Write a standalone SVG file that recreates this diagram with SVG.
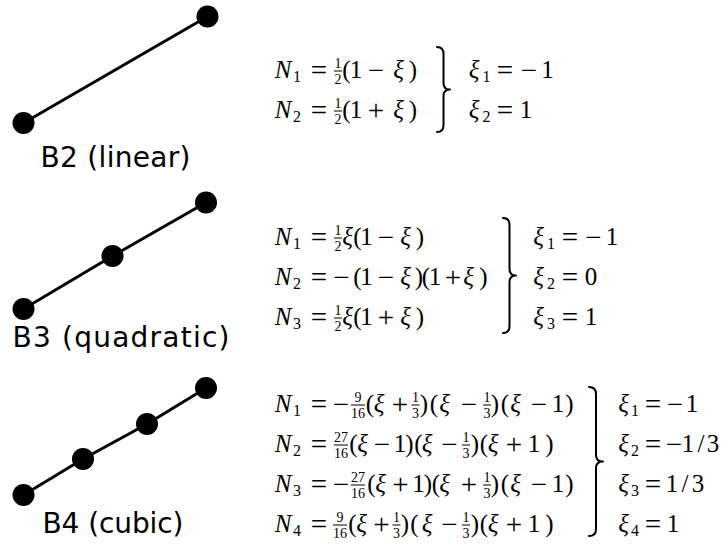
<svg xmlns="http://www.w3.org/2000/svg" width="726" height="547" viewBox="0 0 726 547">
<style>
.m{font-family:"Liberation Serif","Times New Roman",serif;font-size:25px;text-anchor:middle;fill:#000}
.i{font-style:italic}
.s{font-size:16px}
.o{font-size:29px;baseline-shift:-1.5px}
.fr{font-family:"Liberation Serif","Times New Roman",serif;font-size:14px;text-anchor:middle;fill:#000}
.bar{stroke:#000;stroke-width:1}
.brace{fill:none;stroke:#000;stroke-width:2;stroke-linecap:round;stroke-linejoin:round}
.lbl{font-family:"DejaVu Sans",Verdana,sans-serif;font-size:28px;fill:#000}
.edge{stroke:#000;stroke-width:3;fill:none}
.node{fill:#000}
</style>
<rect width="726" height="547" fill="#fff"/>

<g id="connectors">
<line class="edge" x1="23.5" y1="123" x2="207.5" y2="16.5"/>
<line class="edge" x1="23.5" y1="309" x2="112.5" y2="256"/>
<line class="edge" x1="112.5" y1="256" x2="206" y2="202.5"/>
<line class="edge" x1="23.5" y1="495" x2="83" y2="459"/>
<line class="edge" x1="83" y1="459" x2="147" y2="424"/>
<line class="edge" x1="147" y1="424" x2="206" y2="388"/>
</g>

<g id="b2-n1"><circle class="node" cx="23.5" cy="123" r="11"/></g>
<g id="b2-n2"><circle class="node" cx="207.5" cy="16.5" r="11"/></g>
<g id="b3-n1"><circle class="node" cx="23.5" cy="309" r="11"/></g>
<g id="b3-n2"><circle class="node" cx="112.5" cy="256" r="11"/></g>
<g id="b3-n3"><circle class="node" cx="206" cy="202.5" r="11"/></g>
<g id="b4-n1"><circle class="node" cx="23.5" cy="495" r="11"/></g>
<g id="b4-n2"><circle class="node" cx="83" cy="459" r="11"/></g>
<g id="b4-n3"><circle class="node" cx="147" cy="424" r="11"/></g>
<g id="b4-n4"><circle class="node" cx="206" cy="388" r="11"/></g>

<g id="labels">
<text class="lbl" x="40.5" y="167" textLength="150" lengthAdjust="spacing">B2 (linear)</text>
<text class="lbl" x="12.5" y="347" textLength="217" lengthAdjust="spacing">B3 (quadratic)</text>
<text class="lbl" x="42.5" y="533" textLength="141" lengthAdjust="spacing">B4 (cubic)</text>
</g>

<g id="eq-b2">
<text class="m"><tspan class="i" x="283" y="78">N</tspan><tspan class="s" x="297" y="82">1</tspan><tspan class="o" x="319" y="78">=</tspan><tspan x="346.5">(</tspan><tspan x="356">1</tspan><tspan class="o" x="376">−</tspan><tspan class="i" x="398.5">ξ</tspan><tspan x="413">)</tspan></text>
<text class="fr" x="338" y="67.5">1</text><line class="bar" x1="334" x2="342" y1="71" y2="71"/><text class="fr" x="338" y="84">2</text>
<text class="m"><tspan class="i" x="283" y="118">N</tspan><tspan class="s" x="297" y="122">2</tspan><tspan class="o" x="319" y="118">=</tspan><tspan x="346.5">(</tspan><tspan x="356">1</tspan><tspan class="o" x="376">+</tspan><tspan class="i" x="398.5">ξ</tspan><tspan x="413">)</tspan></text>
<text class="fr" x="338" y="107.5">1</text><line class="bar" x1="334" x2="342" y1="111" y2="111"/><text class="fr" x="338" y="124">2</text>
<path class="brace" d="M437,47 Q443.5,47 443.5,54 L443.5,83 Q443.5,89.5 450,89.5 Q443.5,89.5 443.5,96 L443.5,125 Q443.5,132 437,132"/>
<text class="m"><tspan class="i" x="474" y="78">ξ</tspan><tspan class="s" x="486.5" y="82">1</tspan><tspan class="o" x="505" y="78">=</tspan><tspan class="o" x="529">−</tspan><tspan x="547.5">1</tspan></text>
<text class="m"><tspan class="i" x="474" y="118">ξ</tspan><tspan class="s" x="486.5" y="122">2</tspan><tspan class="o" x="505" y="118">=</tspan><tspan x="526">1</tspan></text>
</g>

<g id="eq-b3">
<text class="m"><tspan class="i" x="283" y="245">N</tspan><tspan class="s" x="297" y="249">1</tspan><tspan class="o" x="319" y="245">=</tspan><tspan class="i" x="347.5">ξ</tspan><tspan x="357.5">(</tspan><tspan x="366.5">1</tspan><tspan class="o" x="386">−</tspan><tspan class="i" x="405.5">ξ</tspan><tspan x="420">)</tspan></text>
<text class="fr" x="338" y="234.5">1</text><line class="bar" x1="334" x2="342" y1="238" y2="238"/><text class="fr" x="338" y="251">2</text>
<text class="m"><tspan class="i" x="283" y="285">N</tspan><tspan class="s" x="297" y="289">2</tspan><tspan class="o" x="319" y="285">=</tspan><tspan class="o" x="341.5">−</tspan><tspan x="357.5">(</tspan><tspan x="366.5">1</tspan><tspan class="o" x="386">−</tspan><tspan class="i" x="405.5">ξ</tspan><tspan x="419">)</tspan><tspan x="426">(</tspan><tspan x="435">1</tspan><tspan class="o" x="453">+</tspan><tspan class="i" x="468.5">ξ</tspan><tspan x="483.5">)</tspan></text>
<text class="m"><tspan class="i" x="283" y="325">N</tspan><tspan class="s" x="297" y="329">3</tspan><tspan class="o" x="319" y="325">=</tspan><tspan class="i" x="347.5">ξ</tspan><tspan x="357.5">(</tspan><tspan x="366.5">1</tspan><tspan class="o" x="386">+</tspan><tspan class="i" x="405.5">ξ</tspan><tspan x="420">)</tspan></text>
<text class="fr" x="338" y="314.5">1</text><line class="bar" x1="334" x2="342" y1="318" y2="318"/><text class="fr" x="338" y="331">2</text>
<path class="brace" d="M503,218 Q509.5,218 509.5,225 L509.5,269 Q509.5,275.5 516,275.5 Q509.5,275.5 509.5,282 L509.5,326 Q509.5,333 503,333"/>
<text class="m"><tspan class="i" x="538.5" y="245">ξ</tspan><tspan class="s" x="551" y="249">1</tspan><tspan class="o" x="570" y="245">=</tspan><tspan class="o" x="593.5">−</tspan><tspan x="612">1</tspan></text>
<text class="m"><tspan class="i" x="538.5" y="285">ξ</tspan><tspan class="s" x="551" y="289">2</tspan><tspan class="o" x="570" y="285">=</tspan><tspan x="591">0</tspan></text>
<text class="m"><tspan class="i" x="538.5" y="325">ξ</tspan><tspan class="s" x="551" y="329">3</tspan><tspan class="o" x="570" y="325">=</tspan><tspan x="591">1</tspan></text>
</g>

<g id="eq-b4">
<text class="m"><tspan class="i" x="283" y="412">N</tspan><tspan class="s" x="297" y="416">1</tspan><tspan class="o" x="319" y="412">=</tspan><tspan class="o" x="341">−</tspan><tspan x="370">(</tspan><tspan class="i" x="379">ξ</tspan><tspan class="o" x="400">+</tspan><tspan x="424">)</tspan><tspan x="434">(</tspan><tspan class="i" x="444.5">ξ</tspan><tspan class="o" x="469">−</tspan><tspan x="495">)</tspan><tspan x="505">(</tspan><tspan class="i" x="515.5">ξ</tspan><tspan class="o" x="539">−</tspan><tspan x="558">1</tspan><tspan x="569.5">)</tspan></text>
<text class="fr" x="358" y="401.5">9</text><line class="bar" x1="351" x2="365" y1="405" y2="405"/><text class="fr" x="358" y="418">16</text>
<text class="fr" x="415.5" y="401.5">1</text><line class="bar" x1="411.5" x2="419.5" y1="405" y2="405"/><text class="fr" x="415.5" y="418">3</text>
<text class="fr" x="487" y="401.5">1</text><line class="bar" x1="483" x2="491" y1="405" y2="405"/><text class="fr" x="487" y="418">3</text>

<text class="m"><tspan class="i" x="283" y="452">N</tspan><tspan class="s" x="297" y="456">2</tspan><tspan class="o" x="319" y="452">=</tspan><tspan x="353.5">(</tspan><tspan class="i" x="362.5">ξ</tspan><tspan class="o" x="382">−</tspan><tspan x="400">1</tspan><tspan x="409.5">)</tspan><tspan x="418.5">(</tspan><tspan class="i" x="427">ξ</tspan><tspan class="o" x="449.5">−</tspan><tspan x="475">)</tspan><tspan x="484">(</tspan><tspan class="i" x="493">ξ</tspan><tspan class="o" x="514">+</tspan><tspan x="534">1</tspan><tspan x="549.5">)</tspan></text>
<text class="fr" x="341" y="441.5">27</text><line class="bar" x1="334" x2="348" y1="445" y2="445"/><text class="fr" x="341" y="458">16</text>
<text class="fr" x="466" y="441.5">1</text><line class="bar" x1="462" x2="470" y1="445" y2="445"/><text class="fr" x="466" y="458">3</text>

<text class="m"><tspan class="i" x="283" y="492">N</tspan><tspan class="s" x="297" y="496">3</tspan><tspan class="o" x="319" y="492">=</tspan><tspan class="o" x="341">−</tspan><tspan x="371.5">(</tspan><tspan class="i" x="380.5">ξ</tspan><tspan class="o" x="400.5">+</tspan><tspan x="418.5">1</tspan><tspan x="428">)</tspan><tspan x="436">(</tspan><tspan class="i" x="444.5">ξ</tspan><tspan class="o" x="469">+</tspan><tspan x="495">)</tspan><tspan x="505">(</tspan><tspan class="i" x="515.5">ξ</tspan><tspan class="o" x="539">−</tspan><tspan x="558">1</tspan><tspan x="569.5">)</tspan></text>
<text class="fr" x="358" y="481.5">27</text><line class="bar" x1="351" x2="365" y1="485" y2="485"/><text class="fr" x="358" y="498">16</text>
<text class="fr" x="487" y="481.5">1</text><line class="bar" x1="483" x2="491" y1="485" y2="485"/><text class="fr" x="487" y="498">3</text>

<text class="m"><tspan class="i" x="283" y="532">N</tspan><tspan class="s" x="297" y="536">4</tspan><tspan class="o" x="319" y="532">=</tspan><tspan x="352.5">(</tspan><tspan class="i" x="361.5">ξ</tspan><tspan class="o" x="381.5">+</tspan><tspan x="405">)</tspan><tspan x="414.5">(</tspan><tspan class="i" x="427">ξ</tspan><tspan class="o" x="449.5">−</tspan><tspan x="475">)</tspan><tspan x="484">(</tspan><tspan class="i" x="493">ξ</tspan><tspan class="o" x="514">+</tspan><tspan x="534">1</tspan><tspan x="549.5">)</tspan></text>
<text class="fr" x="340" y="521.5">9</text><line class="bar" x1="333" x2="347" y1="525" y2="525"/><text class="fr" x="340" y="538">16</text>
<text class="fr" x="396.5" y="521.5">1</text><line class="bar" x1="392.5" x2="400.5" y1="525" y2="525"/><text class="fr" x="396.5" y="538">3</text>
<text class="fr" x="466" y="521.5">1</text><line class="bar" x1="462" x2="470" y1="525" y2="525"/><text class="fr" x="466" y="538">3</text>

<path class="brace" d="M589,387 Q596,387 596,394 L596,455 Q596,461.5 603,461.5 Q596,461.5 596,468 L596,529 Q596,536 589,536"/>
<text class="m"><tspan class="i" x="623.5" y="412">ξ</tspan><tspan class="s" x="635" y="416">1</tspan><tspan class="o" x="653" y="412">=</tspan><tspan class="o" x="675">−</tspan><tspan x="692">1</tspan></text>
<text class="m"><tspan class="i" x="623.5" y="452">ξ</tspan><tspan class="s" x="635" y="456">2</tspan><tspan class="o" x="653" y="452">=</tspan><tspan class="o" x="674">−</tspan><tspan x="688">1</tspan><tspan x="701">/</tspan><tspan x="713">3</tspan></text>
<text class="m"><tspan class="i" x="623.5" y="492">ξ</tspan><tspan class="s" x="635" y="496">3</tspan><tspan class="o" x="653" y="492">=</tspan><tspan x="672">1</tspan><tspan x="685">/</tspan><tspan x="698">3</tspan></text>
<text class="m"><tspan class="i" x="623.5" y="532">ξ</tspan><tspan class="s" x="635" y="536">4</tspan><tspan class="o" x="653" y="532">=</tspan><tspan x="673">1</tspan></text>
</g>
</svg>
